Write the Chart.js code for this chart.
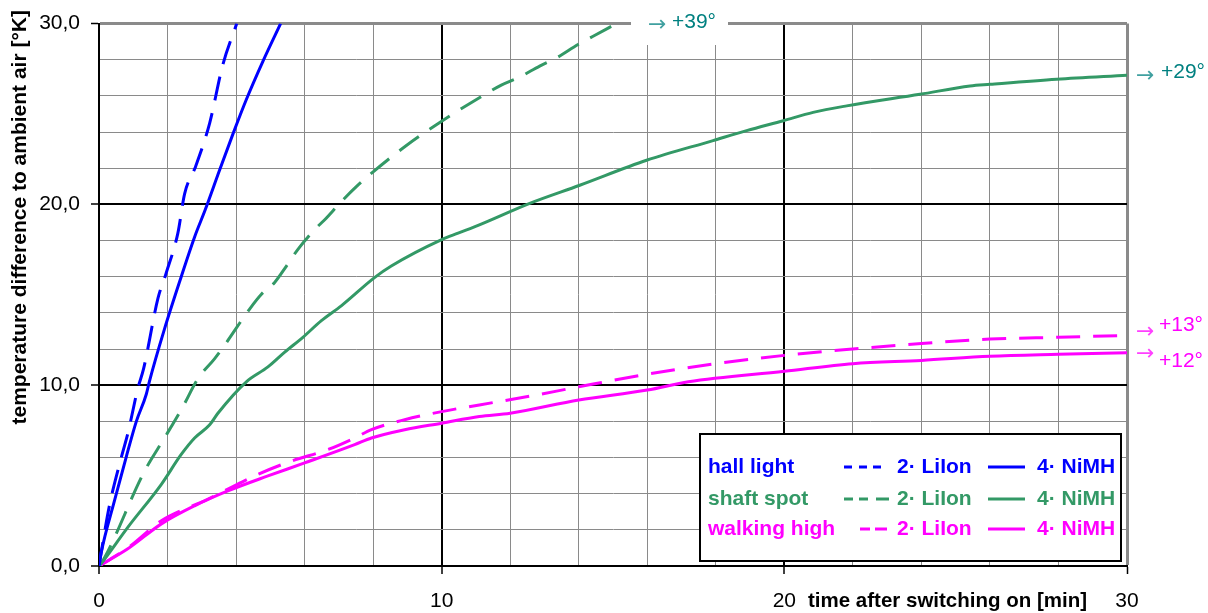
<!DOCTYPE html>
<html>
<head>
<meta charset="utf-8">
<script src="https://cdn.jsdelivr.net/npm/chart.js@4.4.1/dist/chart.umd.min.js"></script>
<style>
html,body{margin:0;padding:0;background:#fff;}
#wrap{width:1208px;height:613px;position:relative;}
</style>
</head>
<body>
<div id="wrap"><canvas id="c" width="1208" height="613"></canvas></div>
<script>
// ---- data (time in min, temperature difference in K) ----
const hallLiIonTime = [0, 0.06, 0.3, 0.65, 0.85, 1.13, 1.3, 1.72, 1.96, 2.3, 2.5, 2.82, 3.23, 3.61, 4.02];
const hallLiIonTemp = [0, 0.7, 3.3, 6.0, 7.4, 9.8, 10.9, 14.8, 16.2, 18.4, 20.6, 22.1, 24.5, 27.7, 30.0];

const hallNiMHTime = [0, 0.06, 0.45, 0.79, 1.09, 1.38, 1.47, 1.91, 2.4, 2.79, 3.1, 3.52, 3.91, 4.3, 4.78, 5.3];
const hallNiMHTemp = [0, 0.7, 3.6, 6.0, 8.0, 9.5, 10.2, 13.1, 16.0, 18.2, 19.7, 21.9, 23.9, 25.8, 27.9, 30.0];

const shaftLiIonTime = [0, 0.06, 1.33, 1.91, 2.45, 2.89, 3.37, 3.66, 4.39, 4.74, 5.12, 5.47, 5.8, 6.29, 6.58, 7.07, 7.51, 8.0, 9.0, 10.0, 11.1, 11.74, 12.28, 12.86, 13.35, 13.98, 14.42, 15.1];
const shaftLiIonTemp = [0, 0.13, 5.25, 7.08, 8.82, 10.37, 11.46, 12.2, 14.2, 15.03, 15.67, 16.59, 17.5, 18.6, 19.14, 20.15, 20.98, 21.8, 23.3, 24.6, 25.9, 26.6, 27.05, 27.65, 28.1, 28.84, 29.3, 30.0];

const shaftNiMHTime = [0, 0.06, 0.84, 1.82, 2.4, 2.79, 3.23, 3.47, 4.3, 4.93, 5.42, 5.95, 6.49, 7.07, 8.04, 8.53, 10.0, 10.48, 11.1, 12.57, 14.03, 15.98, 17.92, 18.9, 19.97, 20.84, 21.82, 23.96, 25.42, 26.0, 27.95, 30.0];
const shaftNiMHTemp = [0, 0.13, 2.14, 4.52, 6.17, 7.08, 7.81, 8.45, 10.19, 11.01, 11.83, 12.65, 13.57, 14.39, 15.95, 16.59, 18.05, 18.41, 18.87, 20.06, 21.06, 22.44, 23.53, 24.08, 24.63, 25.09, 25.45, 26.09, 26.55, 26.64, 26.92, 27.14];

const walkLiIonTime = [0, 0.84, 1.82, 2.5, 3.08, 3.76, 4.64, 5.61, 6.68, 7.46, 7.95, 8.92, 10.0, 11.1, 12.6, 14.0, 16.1, 18.0, 20.0, 22.0, 24.0, 26.0, 28.0, 30.0];
const walkLiIonTemp = [0, 1.0, 2.5, 3.15, 3.6, 4.25, 5.07, 5.8, 6.44, 7.08, 7.54, 8.09, 8.54, 8.91, 9.4, 9.91, 10.64, 11.19, 11.65, 12.0, 12.3, 12.55, 12.65, 12.75];

const walkNiMHTime = [0, 0.84, 1.82, 2.79, 3.76, 4.93, 6.0, 7.46, 7.95, 8.92, 10.0, 11.1, 12.0, 14.0, 16.0, 17.2, 20.0, 22.0, 24.0, 26.0, 28.0, 30.0];
const walkNiMHTemp = [0, 0.95, 2.33, 3.33, 4.15, 4.98, 5.7, 6.71, 7.08, 7.54, 7.9, 8.27, 8.45, 9.18, 9.73, 10.19, 10.77, 11.19, 11.37, 11.6, 11.71, 11.8];

const groupNames = ['hall light', 'shaft spot', 'walking high'];
const batteryNames = ['2· LiIon', '4· NiMH'];
const endLabels = ['+39°', '+29°', '+13°', '+12°'];
const xTitle = 'time after switching on [min]';
const yTitle = 'temperature difference to ambient air [°K]';

// ---- styles ----
const FONT = '"Liberation Sans", Arial, sans-serif';
const BLUE = '#0000ff', GREEN = '#339966', MAGENTA = '#ff00ff', TEAL = '#008080';
const DASH = [24, 13];

function series(label, t, v, color, dashed) {
  return {
    label: label,
    data: t.map((x, i) => ({x: x, y: v[i]})),
    borderColor: color,
    backgroundColor: color,
    borderWidth: 3,
    borderDash: dashed ? DASH : [],
    borderCapStyle: 'butt',
    pointRadius: 0,
    fill: false,
    cubicInterpolationMode: 'monotone'
  };
}

const datasets = [
  series(groupNames[0] + ' ' + batteryNames[0], hallLiIonTime, hallLiIonTemp, BLUE, true),
  series(groupNames[0] + ' ' + batteryNames[1], hallNiMHTime, hallNiMHTemp, BLUE, false),
  series(groupNames[1] + ' ' + batteryNames[0], shaftLiIonTime, shaftLiIonTemp, GREEN, true),
  series(groupNames[1] + ' ' + batteryNames[1], shaftNiMHTime, shaftNiMHTemp, GREEN, false),
  series(groupNames[2] + ' ' + batteryNames[0], walkLiIonTime, walkLiIonTemp, MAGENTA, true),
  series(groupNames[2] + ' ' + batteryNames[1], walkNiMHTime, walkNiMHTemp, MAGENTA, false)
];

function gColor(v) { return (v % 10 === 0 && v !== 30) ? '#000' : '#8a8a8a'; }
function gWidth(v) { return v === 30 ? 3 : (v % 10 === 0 ? 2 : 1); }
function tColor(v) { return v % 10 === 0 ? '#000' : 'rgba(0,0,0,0)'; }

const overlay = {
  id: 'overlay',
  afterDraw(chart) {
    const ctx = chart.ctx;
    const ca = chart.chartArea;
    const ys = chart.scales.y;
    ctx.save();
    // axis titles
    ctx.fillStyle = '#000';
    ctx.font = 'bold 21px ' + FONT;
    ctx.save();
    ctx.translate(20, 10);
    ctx.rotate(-Math.PI / 2);
    ctx.textAlign = 'right';
    ctx.textBaseline = 'middle';
    ctx.fillText(yTitle, 0, 0);
    ctx.restore();
    ctx.font = 'bold 20.5px ' + FONT;
    ctx.textAlign = 'left';
    ctx.textBaseline = 'alphabetic';
    ctx.fillText(xTitle, 808, 607);

    // end labels
    function endLabel(text, color, ax, ay, tx, ty) {
      ctx.textBaseline = 'middle';
      ctx.textAlign = 'left';
      ctx.font = '22px "DejaVu Sans", sans-serif';
      ctx.fillStyle = color;
      ctx.globalAlpha = 0.75;
      ctx.fillText('\u2192', ax, ay);
      ctx.globalAlpha = 1;
      ctx.font = '21px ' + FONT;
      ctx.fillText(text, tx, ty);
    }
    ctx.fillStyle = '#fff';
    ctx.fillRect(631, 0, 97, 45);
    endLabel(endLabels[0], TEAL, 648, ca.top + 2, 672, ca.top - 1);
    const d = chart.data.datasets;
    const lastY = i => ys.getPixelForValue(d[i].data[d[i].data.length - 1].y);
    const rx = ca.right + 9;
    endLabel(endLabels[1], TEAL, rx, lastY(3) + 1, rx + 25, lastY(3) - 3.5);
    endLabel(endLabels[2], MAGENTA, rx, lastY(4) - 3, rx + 23, lastY(4) - 10);
    endLabel(endLabels[3], MAGENTA, rx, lastY(5) + 2, rx + 23, lastY(5) + 9);

    // legend
    const lx = 699, ly = 433, lw = 423, lh = 129;
    ctx.fillStyle = '#fff';
    ctx.fillRect(lx, ly, lw, lh);
    ctx.strokeStyle = '#000';
    ctx.lineWidth = 2;
    ctx.strokeRect(lx + 1, ly + 1, lw - 2, lh - 2);
    const bases = [473, 505, 535];
    const dashes = [
      [[844, 852], [859, 867], [873, 881]],
      [[844, 853], [859, 868], [876, 889]],
      [[860, 870], [875, 887]]
    ];
    for (let g = 0; g < 3; g++) {
      const col = d[g * 2].borderColor;
      const b = bases[g];
      ctx.fillStyle = col;
      ctx.strokeStyle = col;
      ctx.font = 'bold 21px ' + FONT;
      ctx.textAlign = 'left';
      ctx.textBaseline = 'alphabetic';
      ctx.fillText(groupNames[g], 708, b);
      ctx.lineWidth = 3;
      dashes[g].forEach(s => {
        ctx.beginPath(); ctx.moveTo(s[0], b - 6); ctx.lineTo(s[1], b - 6); ctx.stroke();
      });
      ctx.fillText(batteryNames[0], 897, b);
      ctx.beginPath(); ctx.moveTo(988, b - 6); ctx.lineTo(1025, b - 6); ctx.stroke();
      ctx.fillText(batteryNames[1], 1037, b);
    }
    ctx.restore();
  }
};

new Chart(document.getElementById('c'), {
  type: 'line',
  data: {datasets: datasets},
  options: {
    responsive: false,
    animation: false,
    devicePixelRatio: 1,
    layout: {padding: {top: 20, right: 81, bottom: 0, left: 0}},
    plugins: {legend: {display: false}, tooltip: {enabled: false}},
    scales: {
      x: {
        type: 'linear', min: 0, max: 30,
        ticks: {
          stepSize: 2, autoSkip: false, maxRotation: 0, padding: 15, color: '#000',
          font: {family: FONT, size: 21},
          callback: v => (v % 10 === 0 ? String(v) : '')
        },
        grid: {
          color: c => gColor(c.tick.value),
          lineWidth: c => gWidth(c.tick.value),
          tickColor: c => tColor(c.tick.value),
          tickLength: 8, tickWidth: 1.5
        },
        border: {display: true, color: '#000', width: 2},
        afterFit: s => { s.height = 47; }
      },
      y: {
        type: 'linear', min: 0, max: 30,
        ticks: {
          stepSize: 2, autoSkip: false, padding: 11, color: '#000',
          font: {family: FONT, size: 21},
          callback: v => (v % 10 === 0 ? v.toFixed(1).replace('.', ',') : '')
        },
        grid: {
          color: c => gColor(c.tick.value),
          lineWidth: c => gWidth(c.tick.value),
          tickColor: c => tColor(c.tick.value),
          tickLength: 8, tickWidth: 1.5
        },
        border: {display: true, color: '#000', width: 2},
        afterFit: s => { s.width = 99; }
      }
    }
  },
  plugins: [overlay]
});
</script>
</body>
</html>
